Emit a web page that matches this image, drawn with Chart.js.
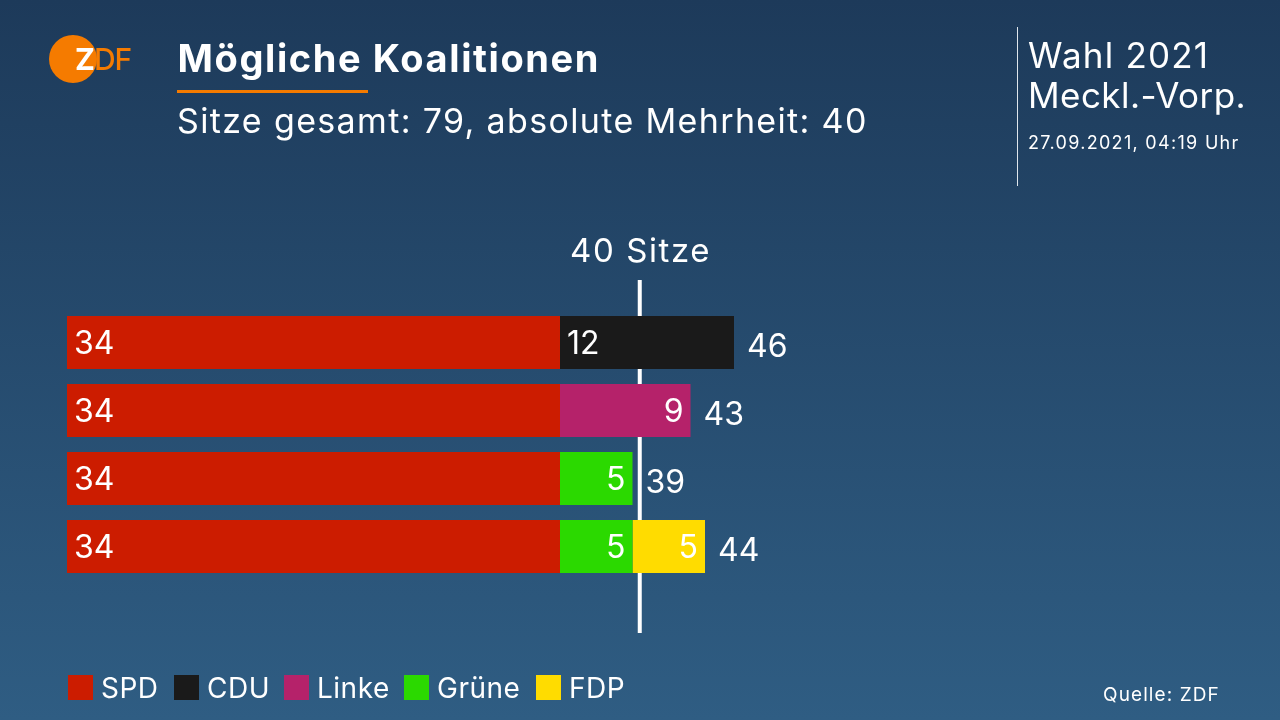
<!DOCTYPE html>
<html lang="de"><head><meta charset="utf-8">
<script src="https://cdn.jsdelivr.net/npm/chart.js@4"></script>
<style>
html,body{margin:0;padding:0;width:1280px;height:720px;overflow:hidden}
body{position:relative;background:linear-gradient(180deg,#1d3a5a 0%,#2f5d83 100%);font-family:Inter,sans-serif;color:#fff}
#c{position:absolute;left:0;top:0;width:1280px;height:720px}
.t{position:absolute;white-space:nowrap;line-height:1;color:#fff}
.s{position:absolute}
</style></head><body>
<canvas id="c" width="1280" height="720"></canvas>
<div class="s" style="left:49px;top:35px;width:48px;height:48px;border-radius:50%;background:#f57b00"></div>
<div class="t" style="left:75px;top:44px;font-size:30px;font-weight:700;letter-spacing:-1px"><span style="color:#fff">Z</span><span style="color:#f57b00;font-weight:500">DF</span></div>
<div class="t" id="title" style="left:177.5px;top:39px;font-size:38px;font-weight:700;letter-spacing:1.6px">Mögliche Koalitionen</div>
<div class="s" style="left:177px;top:90px;width:191px;height:3px;background:#f57b00"></div>
<div class="t" id="sub" style="left:177px;top:104px;font-size:34px;letter-spacing:1.35px">Sitze gesamt: 79, absolute Mehrheit: 40</div>
<div class="s" style="left:1017px;top:27px;width:1px;height:159px;background:#dfe6ec"></div>
<div class="t" style="left:1028px;top:38px;font-size:35px;letter-spacing:1.2px">Wahl 2021</div>
<div class="t" style="left:1028px;top:78px;font-size:35px;letter-spacing:0.45px">Meckl.-Vorp.</div>
<div class="t" style="left:1028px;top:134px;font-size:18px;letter-spacing:1.3px">27.09.2021, 04:19 Uhr</div>
<div class="t" style="left:570px;top:234px;font-size:33px;letter-spacing:1.6px">40 Sitze</div>
<div class="t" style="left:1103px;top:685px;font-size:19px;letter-spacing:1.1px">Quelle: ZDF</div>
<div id="legend"></div>
<script>
const categories = ['SPD + CDU', 'SPD + Linke', 'SPD + Grüne', 'SPD + Grüne + FDP'];
const spd = [34, 34, 34, 34];
const cdu = [12, null, null, null];
const linke = [null, 9, null, null];
const gruene = [null, null, 5, 5];
const fdp = [null, null, null, 5];
const totals = [46, 43, 39, 44];
const parties = ['SPD', 'CDU', 'Linke', 'Grüne', 'FDP'];
const colors = ['#cc1c00', '#1a1a1a', '#b5226a', '#2bd900', '#ffdc00'];
const majorityLine = 39.5;
const legendX = [68, 174, 284, 404, 536];

const series = [spd, cdu, linke, gruene, fdp];

const majority = {
  id: 'majority',
  beforeDatasetsDraw(chart) {
    const x = chart.scales.x.getPixelForValue(majorityLine);
    const c = chart.ctx;
    c.save();
    c.fillStyle = '#fff';
    c.fillRect(x - 2, 280, 4, 353);
    c.restore();
  }
};
const labels = {
  id: 'labels',
  afterDatasetsDraw(chart) {
    const c = chart.ctx;
    c.save();
    c.fillStyle = '#fff';
    c.font = '32px Inter, sans-serif';
    c.letterSpacing = '0px';
    c.textBaseline = 'alphabetic';
    chart.data.datasets.forEach((ds, i) => {
      chart.getDatasetMeta(i).data.forEach((bar, j) => {
        const v = ds.data[j];
        if (v == null) return;
        const p = bar.getProps(['x', 'y', 'base'], true);
        if (v >= 10) { c.textAlign = 'left'; c.fillText(String(v), p.base + 7, p.y + 11); }
        else { c.textAlign = 'right'; c.fillText(String(v), p.x - 7, p.y + 11); }
      });
    });
    c.textAlign = 'left';
    totals.forEach((t, j) => {
      const y = chart.scales.y.getPixelForValue(j);
      c.fillText(String(t), chart.scales.x.getPixelForValue(t) + 13, y + 14);
    });
    c.restore();
  }
};

new Chart(document.getElementById('c'), {
  type: 'bar',
  data: {
    labels: categories,
    datasets: parties.map((p, i) => ({ label: p, data: series[i], backgroundColor: colors[i], borderWidth: 0, barPercentage: 53 / 68, categoryPercentage: 1 }))
  },
  options: {
    indexAxis: 'y',
    responsive: false,
    animation: false,
    layout: { padding: { left: 67, right: 53, top: 308.5, bottom: 139.5 } },
    plugins: { legend: { display: false }, tooltip: { enabled: false } },
    scales: {
      x: { stacked: true, display: false, min: 0, max: 80 },
      y: { stacked: true, display: false }
    }
  },
  plugins: [majority, labels]
});

const lg = document.getElementById('legend');
parties.forEach((p, i) => {
  const box = document.createElement('div');
  box.className = 's';
  box.style.cssText = `left:${legendX[i]}px;top:675px;width:25px;height:25px;background:${colors[i]}`;
  const t = document.createElement('div');
  t.className = 't';
  t.style.cssText = `left:${legendX[i] + 33}px;top:674px;font-size:28px;letter-spacing:0.5px`;
  t.textContent = p;
  lg.append(box, t);
});
</script>
</body></html>
